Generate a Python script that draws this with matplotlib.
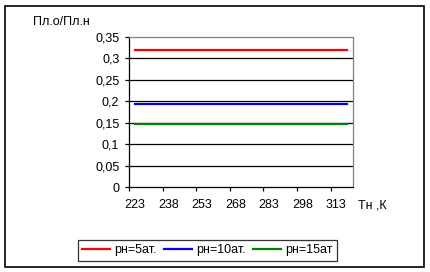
from matplotlib import pyplot as plt
from matplotlib.patches import Rectangle

# Temperature categories (K), step 5
temps = [223, 228, 233, 238, 243, 248, 253, 258, 263, 268,
         273, 278, 283, 288, 293, 298, 303, 308, 313, 318]
tick_labels = [223, 238, 253, 268, 283, 298, 313]

# Ratio Пл.о/Пл.н for each pressure
p5 = [0.32, 0.32, 0.32, 0.32, 0.32, 0.32, 0.32, 0.32, 0.32, 0.32,
      0.32, 0.32, 0.32, 0.32, 0.32, 0.32, 0.32, 0.32, 0.32, 0.32]
p10 = [0.194, 0.194, 0.194, 0.194, 0.194, 0.194, 0.194, 0.194, 0.194, 0.194,
       0.194, 0.194, 0.194, 0.194, 0.194, 0.194, 0.194, 0.194, 0.194, 0.194]
p15 = [0.146, 0.146, 0.146, 0.146, 0.146, 0.146, 0.146, 0.146, 0.146, 0.146,
       0.146, 0.146, 0.146, 0.146, 0.146, 0.146, 0.146, 0.146, 0.146, 0.146]
labels = ["рн=5ат.", "рн=10ат.", "рн=15ат"]
colors = ["#ff0000", "#0000ff", "#008000"]
y_ticks = [0, 0.05, 0.1, 0.15, 0.2, 0.25, 0.3, 0.35]

plt.rcParams["font.family"] = ["Liberation Sans", "DejaVu Sans"]
plt.rcParams["font.size"] = 9

fig = plt.figure(figsize=(4.31, 2.72), dpi=100)
fig.patch.set_facecolor("white")
fig.patches.append(Rectangle((5.5 / 431, 1 - 266.5 / 272), 419 / 431, 261 / 272,
                             transform=fig.transFigure, fill=False,
                             edgecolor="black", linewidth=1.2))

ax = fig.add_axes([129 / 431, 1 - 187 / 272, 224 / 431, 150 / 272])

lines = []
for vals, lab, col in zip([p5, p10, p15], labels, colors):
    (ln,) = ax.plot(temps, vals, color=col, linewidth=1.6, label=lab)
    lines.append(ln)

ax.set_xlim(temps[0] - 2.5, temps[-1] + 2.5)
ax.set_ylim(0, 0.35)

# tick marks on category boundaries, labels on category centres
ax.set_xticks([t - 2.5 for t in tick_labels])
ax.set_xticklabels([])
ax.set_xticks(tick_labels, minor=True)
ax.set_xticklabels([str(t) for t in tick_labels], minor=True)
ax.tick_params(axis="x", which="major", direction="out", length=3, width=0.9)
ax.tick_params(axis="x", which="minor", length=0, pad=9)

ax.set_yticks(y_ticks)
ax.set_yticklabels([("%g" % v).replace(".", ",") for v in y_ticks])
ax.tick_params(axis="y", direction="out", length=3, width=0.9, pad=4)

for y in y_ticks[1:-1]:
    ax.axhline(y, color="black", linewidth=0.9, zorder=0)

ax.spines["left"].set_color("black")
ax.spines["bottom"].set_color("black")
ax.spines["top"].set_color("#808080")
ax.spines["right"].set_color("#808080")
for s in ax.spines.values():
    s.set_linewidth(0.9)

fig.text(33 / 431, 1 - 22 / 272, "Пл.о/Пл.н", ha="left", va="center")
fig.text(358 / 431, 1 - 205 / 272, "Тн ,К", ha="left", va="center")

leg = fig.legend(lines, labels, ncol=3, loc="center",
                 bbox_to_anchor=(207.5 / 431, 1 - 250.5 / 272),
                 frameon=True, fancybox=False, handlelength=2.2,
                 handletextpad=0.35, columnspacing=0.6, borderpad=0.35,
                 borderaxespad=0)
leg.get_frame().set_edgecolor("black")
leg.get_frame().set_linewidth(0.9)

fig.savefig("out.png", dpi=100, facecolor="white")
